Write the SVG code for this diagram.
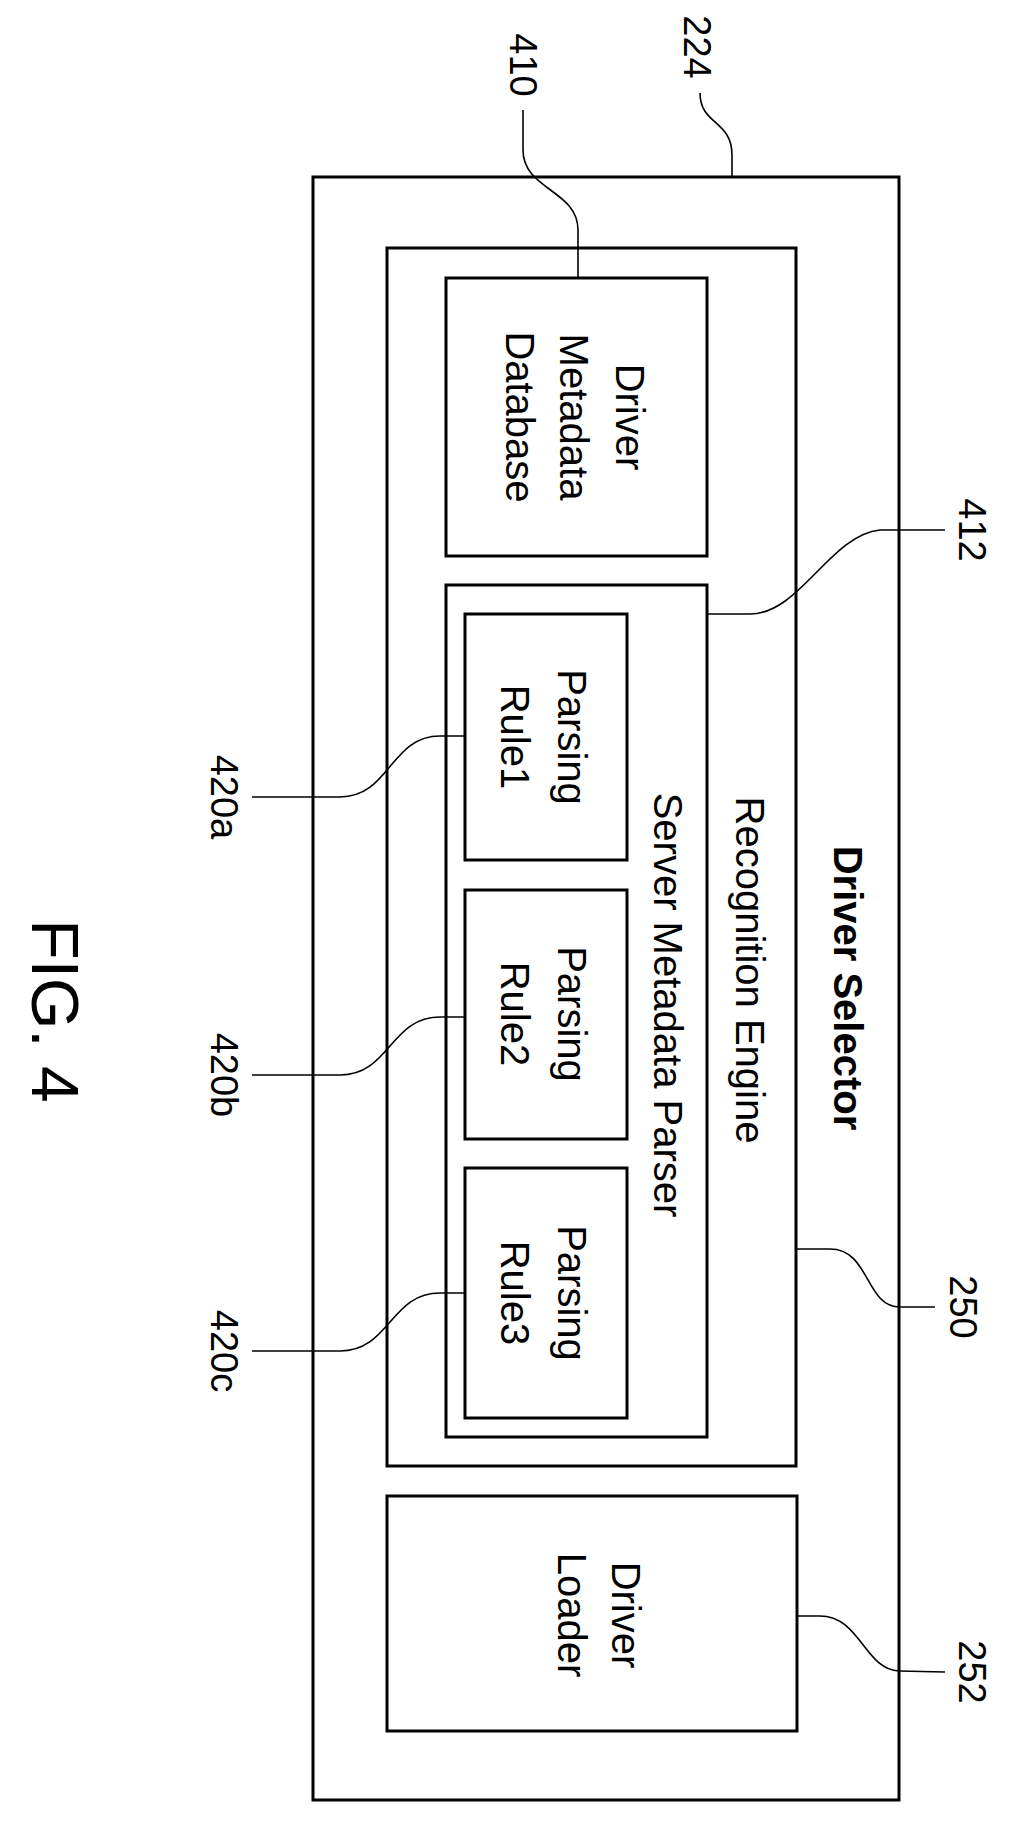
<svg xmlns="http://www.w3.org/2000/svg" width="1012" height="1825" viewBox="0 0 1012 1825">
<style>
.box{fill:none;stroke:#000;stroke-width:3}
.ld{fill:none;stroke:#000;stroke-width:1.6}
text{font-family:"Liberation Sans",Arial,sans-serif;fill:#000;text-anchor:middle;dominant-baseline:central}
.t{font-size:40px}
.r{font-size:38px}
</style>
<rect width="1012" height="1825" fill="#fff"/>
<g id="n224"><rect class="box" x="313" y="177" width="586" height="1623"/>
<text x="848" y="988" transform="rotate(90 848 988)" style="font-size:40px;font-weight:bold">Driver Selector</text></g>
<g id="n250"><rect class="box" x="387" y="248" width="409" height="1218"/>
<text class="t" x="750" y="970" transform="rotate(90 750 970)">Recognition Engine</text></g>
<g id="n410"><rect class="box" x="446" y="278" width="261" height="278"/>
<text class="t" x="630" y="417" transform="rotate(90 630 417)">Driver</text>
<text class="t" x="574" y="417" transform="rotate(90 574 417)">Metadata</text>
<text class="t" x="520" y="417" transform="rotate(90 520 417)">Database</text></g>
<g id="n412"><rect class="box" x="446" y="585" width="261" height="852"/>
<text class="t" x="668" y="1005" transform="rotate(90 668 1005)">Server Metadata Parser</text></g>
<g id="n420a"><rect class="box" x="465" y="614" width="162" height="246"/>
<text class="t" x="572" y="737" transform="rotate(90 572 737)">Parsing</text>
<text class="t" x="515" y="737" transform="rotate(90 515 737)">Rule1</text></g>
<g id="n420b"><rect class="box" x="465" y="890" width="162" height="249"/>
<text class="t" x="572" y="1014" transform="rotate(90 572 1014)">Parsing</text>
<text class="t" x="515" y="1014" transform="rotate(90 515 1014)">Rule2</text></g>
<g id="n420c"><rect class="box" x="465" y="1168" width="162" height="250"/>
<text class="t" x="572" y="1293" transform="rotate(90 572 1293)">Parsing</text>
<text class="t" x="515" y="1293" transform="rotate(90 515 1293)">Rule3</text></g>
<g id="n252"><rect class="box" x="387" y="1496" width="410" height="235"/>
<text class="t" x="626" y="1615" transform="rotate(90 626 1615)">Driver</text>
<text class="t" x="572" y="1615" transform="rotate(90 572 1615)">Loader</text></g>
<g id="connectors">
<path class="ld" d="M523 110 L523 150 C523 190 578 190 578 230 L578 278"/>
<path class="ld" d="M700 93 C700 125 732 120 732 155 L732 177"/>
<path class="ld" d="M707 614 L750 614 C800 614 830 535 880 530 L945 530"/>
<path class="ld" d="M796 1249 L830 1249 C870 1249 865 1307 900 1307 L935 1307"/>
<path class="ld" d="M797 1616 L820 1616 C860 1616 865 1670 899 1671 L945 1672"/>
<path class="ld" d="M465 736 L440 736 C390 736 390 797 340 797 L252 797"/>
<path class="ld" d="M465 1017 L440 1017 C390 1017 390 1075 340 1075 L252 1075"/>
<path class="ld" d="M465 1293 L440 1293 C390 1293 390 1351 340 1351 L252 1351"/>
</g>
<g id="labels">
<text class="r" x="523" y="65" transform="rotate(90 523 65)">410</text>
<text class="r" x="697" y="47" transform="rotate(90 697 47)">224</text>
<text class="r" x="972" y="530" transform="rotate(90 972 530)">412</text>
<text class="r" x="963" y="1307" transform="rotate(90 963 1307)">250</text>
<text class="r" x="972" y="1672" transform="rotate(90 972 1672)">252</text>
<text class="r" x="224" y="797" transform="rotate(90 224 797)">420a</text>
<text class="r" x="224" y="1075" transform="rotate(90 224 1075)">420b</text>
<text class="r" x="224" y="1351" transform="rotate(90 224 1351)">420c</text>
<text x="55" y="1011" transform="rotate(90 55 1011)" style="font-size:66px">FIG. 4</text>
</g>
</svg>
